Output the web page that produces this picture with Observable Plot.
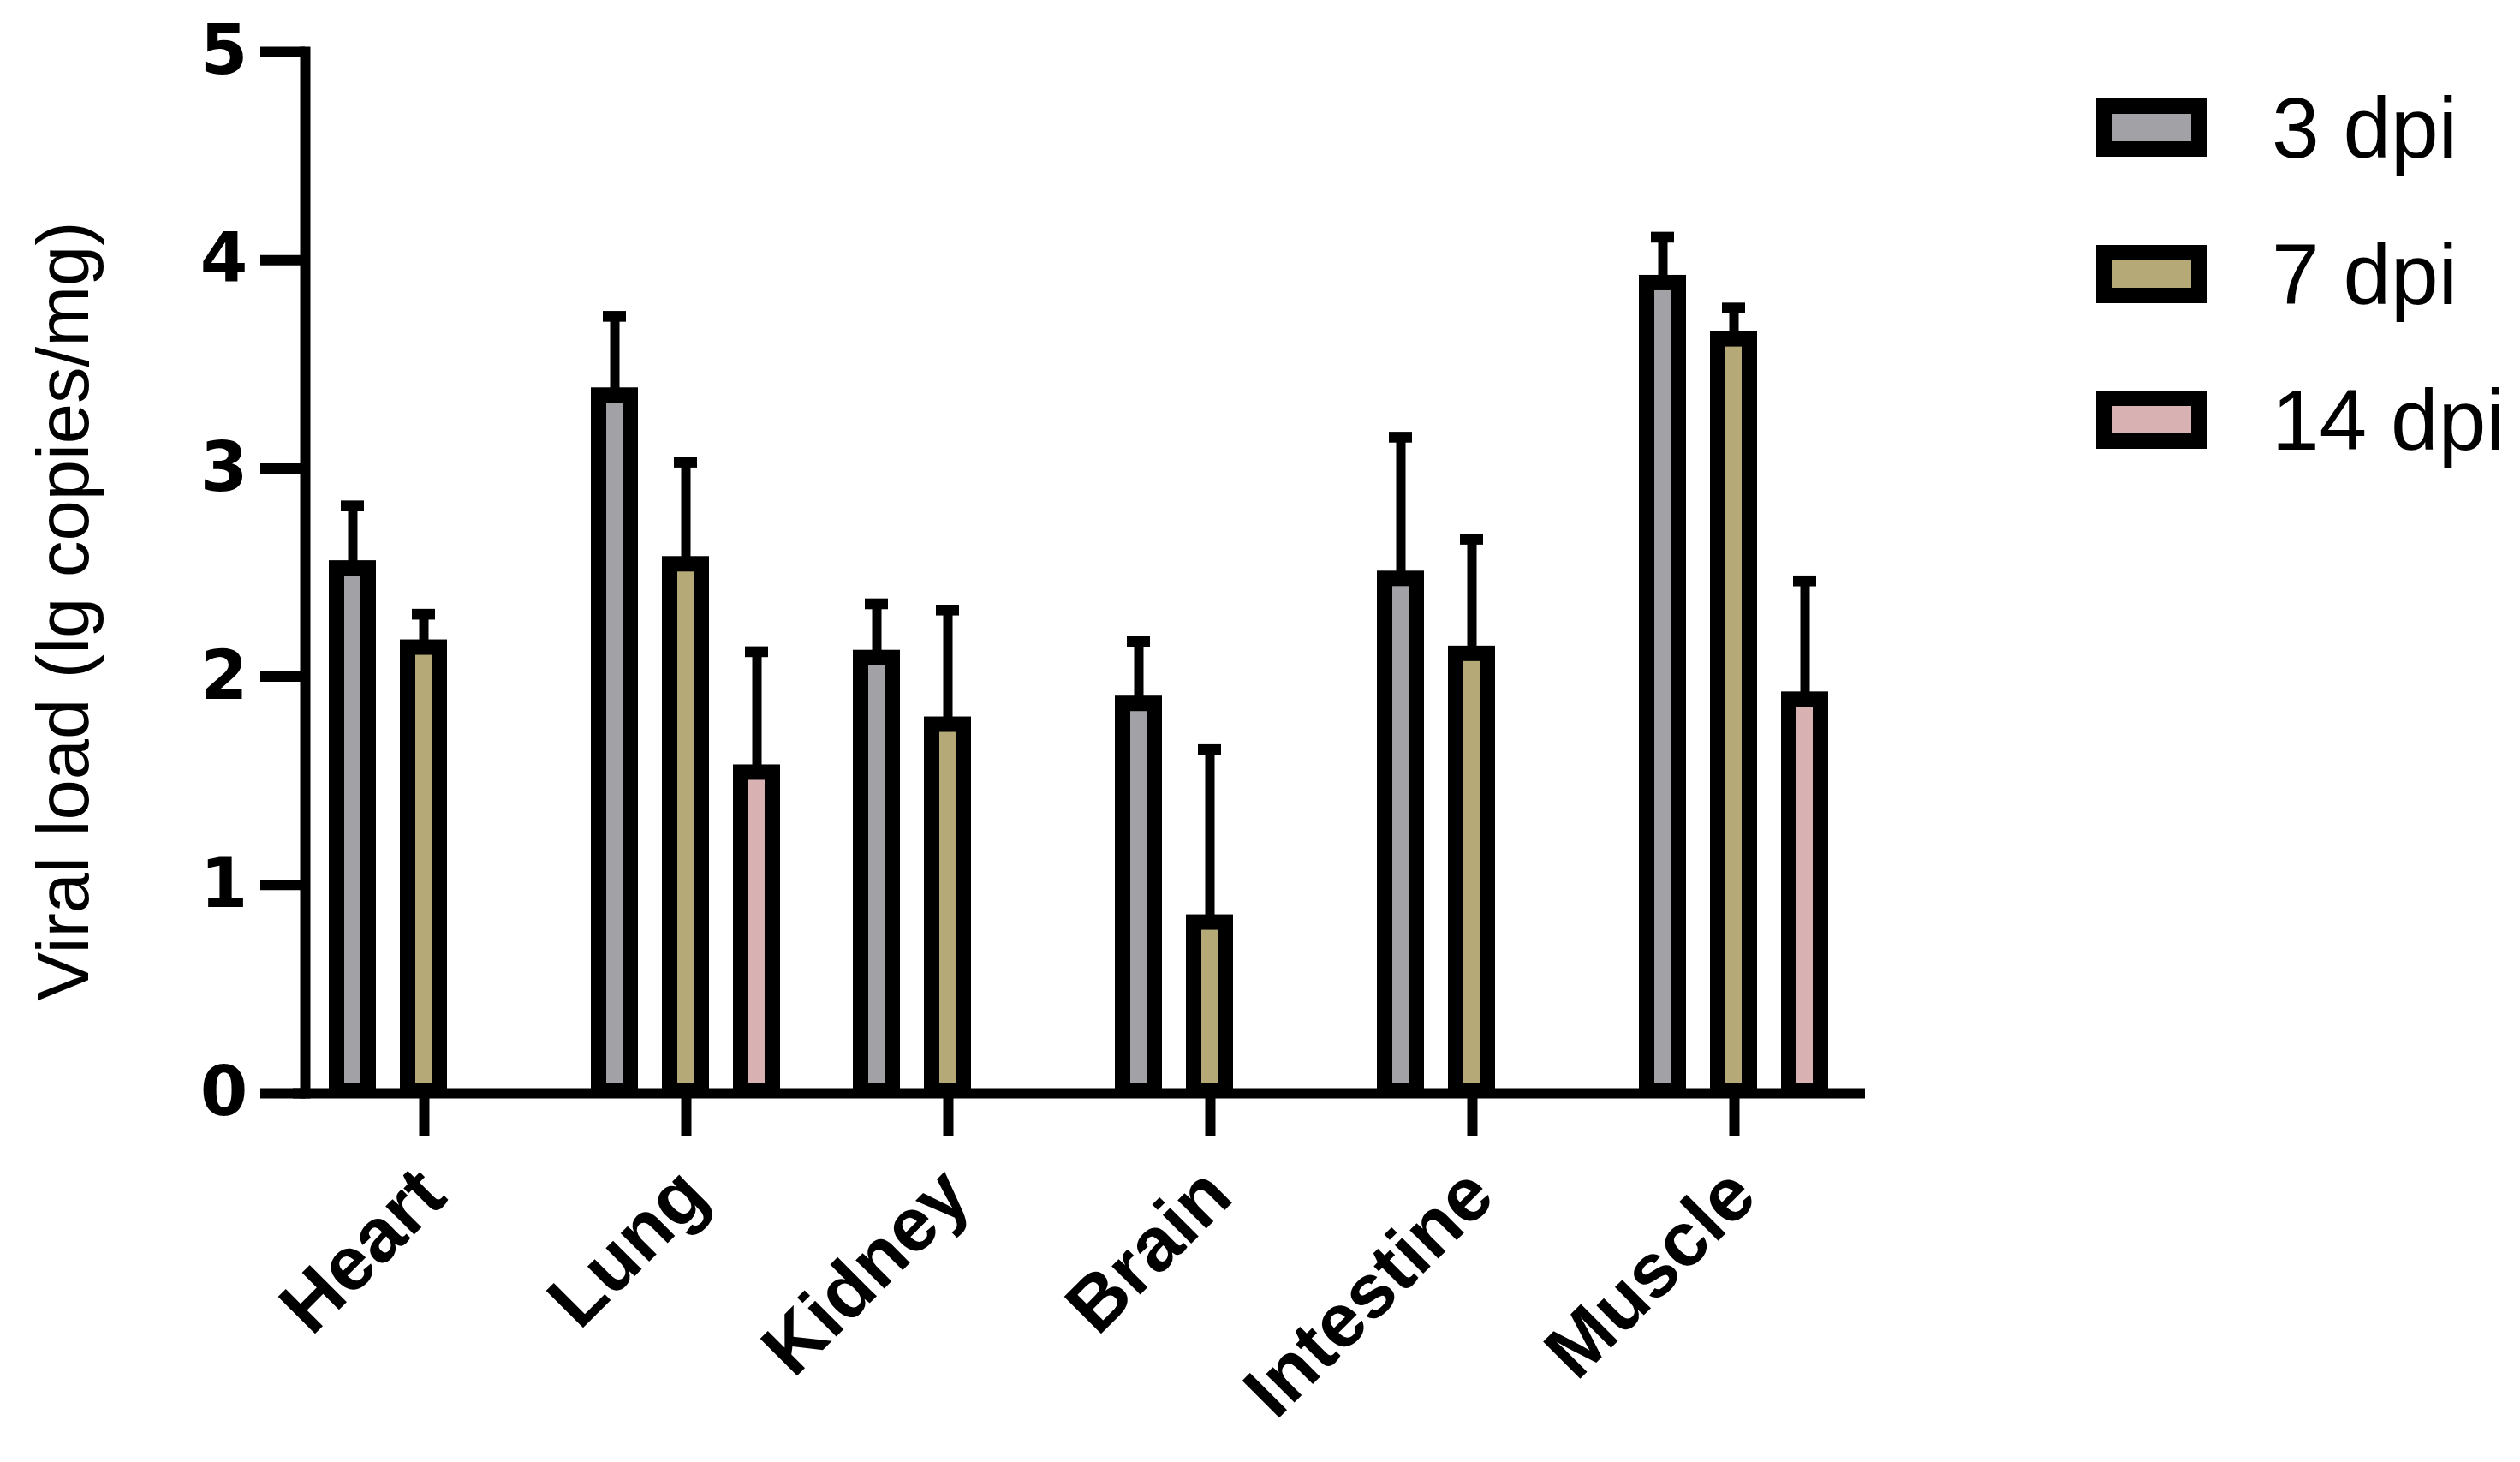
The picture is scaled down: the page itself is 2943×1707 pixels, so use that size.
<!DOCTYPE html>
<html><head><meta charset="utf-8">
<script src="https://cdn.jsdelivr.net/npm/d3@7"></script>
<script src="https://cdn.jsdelivr.net/npm/@observablehq/plot@0.6"></script>
<style>
html,body{margin:0;padding:0;background:#fff;}
#wrap{position:relative;width:2943px;height:1707px;font-family:"Liberation Sans",Arial,sans-serif;}
#legend{position:absolute;left:2448px;top:115px;}
.row{position:absolute;left:0;height:68px;display:flex;white-space:nowrap;}
.sw{box-sizing:border-box;width:129px;height:68px;border:18px solid #000;}
.lab{margin-left:76px;font-size:100px;line-height:68px;color:#000;}
</style></head>
<body><div id="wrap"><div id="chart"></div><div id="legend"></div></div>
<script>
const organs = ["Heart","Lung","Kidney","Brain","Intestine","Muscle"];
const series = ["3 dpi","7 dpi","14 dpi"];
const colors = ["#a2a1a6","#b5aa77","#d8b2b2"];
const mean3 = [2.52,3.35,2.09,1.87,2.47,3.89];
const sd3   = [0.30,0.38,0.26,0.30,0.68,0.22];
const mean7 = [2.14,2.54,1.77,0.82,2.11,3.62];
const sd7   = [0.16,0.49,0.55,0.83,0.55,0.15];
const mean14 = [null,1.54,null,null,null,1.89];
const sd14   = [null,0.58,null,null,null,0.57];
const yTicks = [0,1,2,3,4,5];
const yLabel = "Viral load (lg copies/mg)";

const means = [mean3, mean7, mean14];
const sds = [sd3, sd7, sd14];
const rows = [];
organs.forEach((o, i) => {
  series.forEach((s, j) => {
    if (means[j][i] != null) rows.push({organ: o, series: s, mean: means[j][i], sd: sds[j][i]});
  });
});

const chart = Plot.plot({
  width: 2200, height: 1707,
  marginLeft: 340, marginRight: 21, marginTop: 60, marginBottom: 431,
  style: {fontFamily: "'Liberation Sans', Arial, sans-serif", background: "white", color: "black", overflow: "visible"},
  fx: {domain: organs, padding: 0},
  x: {domain: series, paddingInner: 0.553, paddingOuter: 0.61, axis: null},
  y: {domain: [0, 5]},
  color: {domain: series, range: colors},
  marks: [
    Plot.ruleX(rows, {fx: "organ", x: "series", y1: "mean", y2: d => d.mean + d.sd, stroke: "black", strokeWidth: 11}),
    Plot.tickY(rows, {fx: "organ", x: "series", y: d => d.mean + d.sd, stroke: "black", strokeWidth: 12.6, insetLeft: 5, insetRight: 5}),
    Plot.barY(rows, {fx: "organ", x: "series", y: "mean", fill: "series", stroke: "black", strokeWidth: 18, insetBottom: 3}),
    Plot.ruleY([0], {stroke: "black", strokeWidth: 12}),
    Plot.frame({anchor: "left", stroke: "black", strokeWidth: 12, strokeLinecap: "square", dx: 14, facet: "super"}),
    Plot.axisY({ticks: yTicks, tickSize: 52, tickPadding: 15, stroke: "black", strokeWidth: 12, dx: 14, fontSize: 80, fontWeight: "bold", fontFamily: "'DejaVu Sans', sans-serif", label: null, tickFormat: d => String(d)}),
    Plot.axisFx({anchor: "bottom", tickSize: 50, stroke: "black", strokeWidth: 12, fill: "none", label: null}),
    Plot.axisFx({anchor: "bottom", tickSize: 0, tickPadding: 104, tickRotate: -45, dx: 9, fontSize: 89, fontWeight: "bold", label: null}),
    Plot.text([yLabel], {frameAnchor: "left", textAnchor: "middle", rotate: -90, dx: -267, dy: 45, fontSize: 85, fill: "black", facet: "super"})
  ]
});
document.getElementById("chart").appendChild(chart);

const legend = document.getElementById("legend");
series.forEach((s, j) => {
  const row = document.createElement("div");
  row.className = "row";
  row.style.top = (j * 170.5) + "px";
  const sw = document.createElement("div");
  sw.className = "sw";
  sw.style.background = colors[j];
  const lab = document.createElement("span");
  lab.className = "lab";
  lab.textContent = s;
  row.appendChild(sw);
  row.appendChild(lab);
  legend.appendChild(row);
});
</script>
</body></html>
